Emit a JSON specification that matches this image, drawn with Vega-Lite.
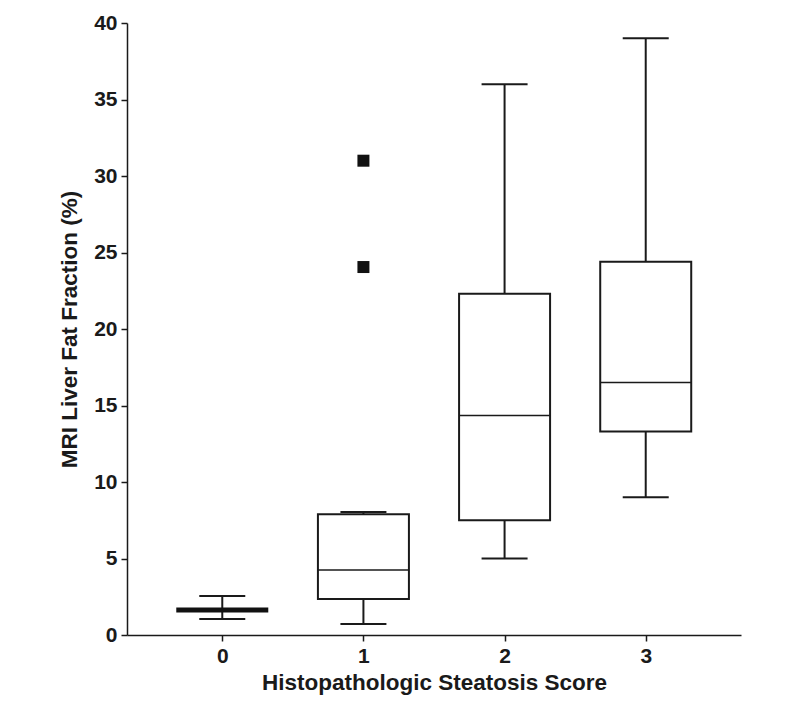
{
  "$schema": "https://vega.github.io/schema/vega-lite/v6.json",
  "width": 614,
  "height": 612,
  "autosize": "none",
  "padding": {"left": 127, "top": 23, "right": 59, "bottom": 75},
  "background": "white",
  "config": {
    "view": {"stroke": null},
    "font": "Liberation Sans",
    "axis": {
      "domainColor": "#1a1a1a",
      "domainWidth": 1.5,
      "tickColor": "#1a1a1a",
      "tickWidth": 1.5,
      "tickSize": 6,
      "labelFont": "Liberation Sans",
      "labelFontWeight": "bold",
      "labelFontSize": 21,
      "labelColor": "#1a1a1a",
      "titleFont": "Liberation Sans",
      "titleFontWeight": "bold",
      "titleFontSize": 22.5,
      "titleColor": "#1a1a1a",
      "grid": false
    }
  },
  "datasets": {
    "stats": [
      {"score": "0", "lo": 1.05, "q1": 1.63, "median": 1.63, "q3": 1.63, "hi": 2.55},
      {"score": "1", "lo": 0.72, "q1": 2.35, "median": 4.25, "q3": 7.9, "hi": 8.04},
      {"score": "2", "lo": 5.0, "q1": 7.5, "median": 14.35, "q3": 22.3, "hi": 36.0},
      {"score": "3", "lo": 9.0, "q1": 13.3, "median": 16.5, "q3": 24.4, "hi": 39.0}
    ],
    "outliers": [
      {"score": "1", "value": 24.05},
      {"score": "1", "value": 31.0}
    ]
  },
  "encoding": {
    "x": {
      "field": "score",
      "type": "ordinal",
      "scale": {"type": "point", "domain": ["0", "1", "2", "3"], "padding": 0.675},
      "axis": {"title": "Histopathologic Steatosis Score", "labelAngle": 0, "labelPadding": 4, "titlePadding": 5}
    }
  },
  "layer": [
    {
      "data": {"name": "stats"},
      "mark": {"type": "rule", "color": "#1a1a1a", "strokeWidth": 2},
      "encoding": {
        "y": {
          "field": "lo",
          "type": "quantitative",
          "scale": {"domain": [0, 40], "nice": false},
          "axis": {"title": "MRI Liver Fat Fraction (%)", "values": [0, 5, 10, 15, 20, 25, 30, 35, 40], "labelPadding": 4, "titlePadding": 12}
        },
        "y2": {"field": "hi"}
      }
    },
    {
      "data": {"name": "stats"},
      "mark": {"type": "tick", "color": "#1a1a1a", "size": 46, "thickness": 2, "opacity": 1},
      "encoding": {"y": {"field": "lo", "type": "quantitative"}}
    },
    {
      "data": {"name": "stats"},
      "mark": {"type": "tick", "color": "#1a1a1a", "size": 46, "thickness": 2, "opacity": 1},
      "encoding": {"y": {"field": "hi", "type": "quantitative"}}
    },
    {
      "data": {"name": "stats"},
      "transform": [{"filter": "datum.score != '0'"}],
      "mark": {"type": "bar", "size": 91, "fill": "white", "stroke": "#1a1a1a", "strokeWidth": 2},
      "encoding": {"y": {"field": "q1", "type": "quantitative"}, "y2": {"field": "q3"}}
    },
    {
      "data": {"name": "stats"},
      "transform": [{"filter": "datum.score != '0'"}],
      "mark": {"type": "tick", "color": "#1a1a1a", "size": 91, "thickness": 1.6, "opacity": 1},
      "encoding": {"y": {"field": "median", "type": "quantitative"}}
    },
    {
      "data": {"name": "stats"},
      "transform": [{"filter": "datum.score == '0'"}],
      "mark": {"type": "tick", "color": "#111111", "size": 92, "thickness": 5, "opacity": 1},
      "encoding": {"y": {"field": "median", "type": "quantitative"}}
    },
    {
      "data": {"name": "outliers"},
      "mark": {"type": "point", "shape": "square", "filled": true, "size": 144, "color": "#111111", "opacity": 1},
      "encoding": {"y": {"field": "value", "type": "quantitative"}}
    }
  ]
}
